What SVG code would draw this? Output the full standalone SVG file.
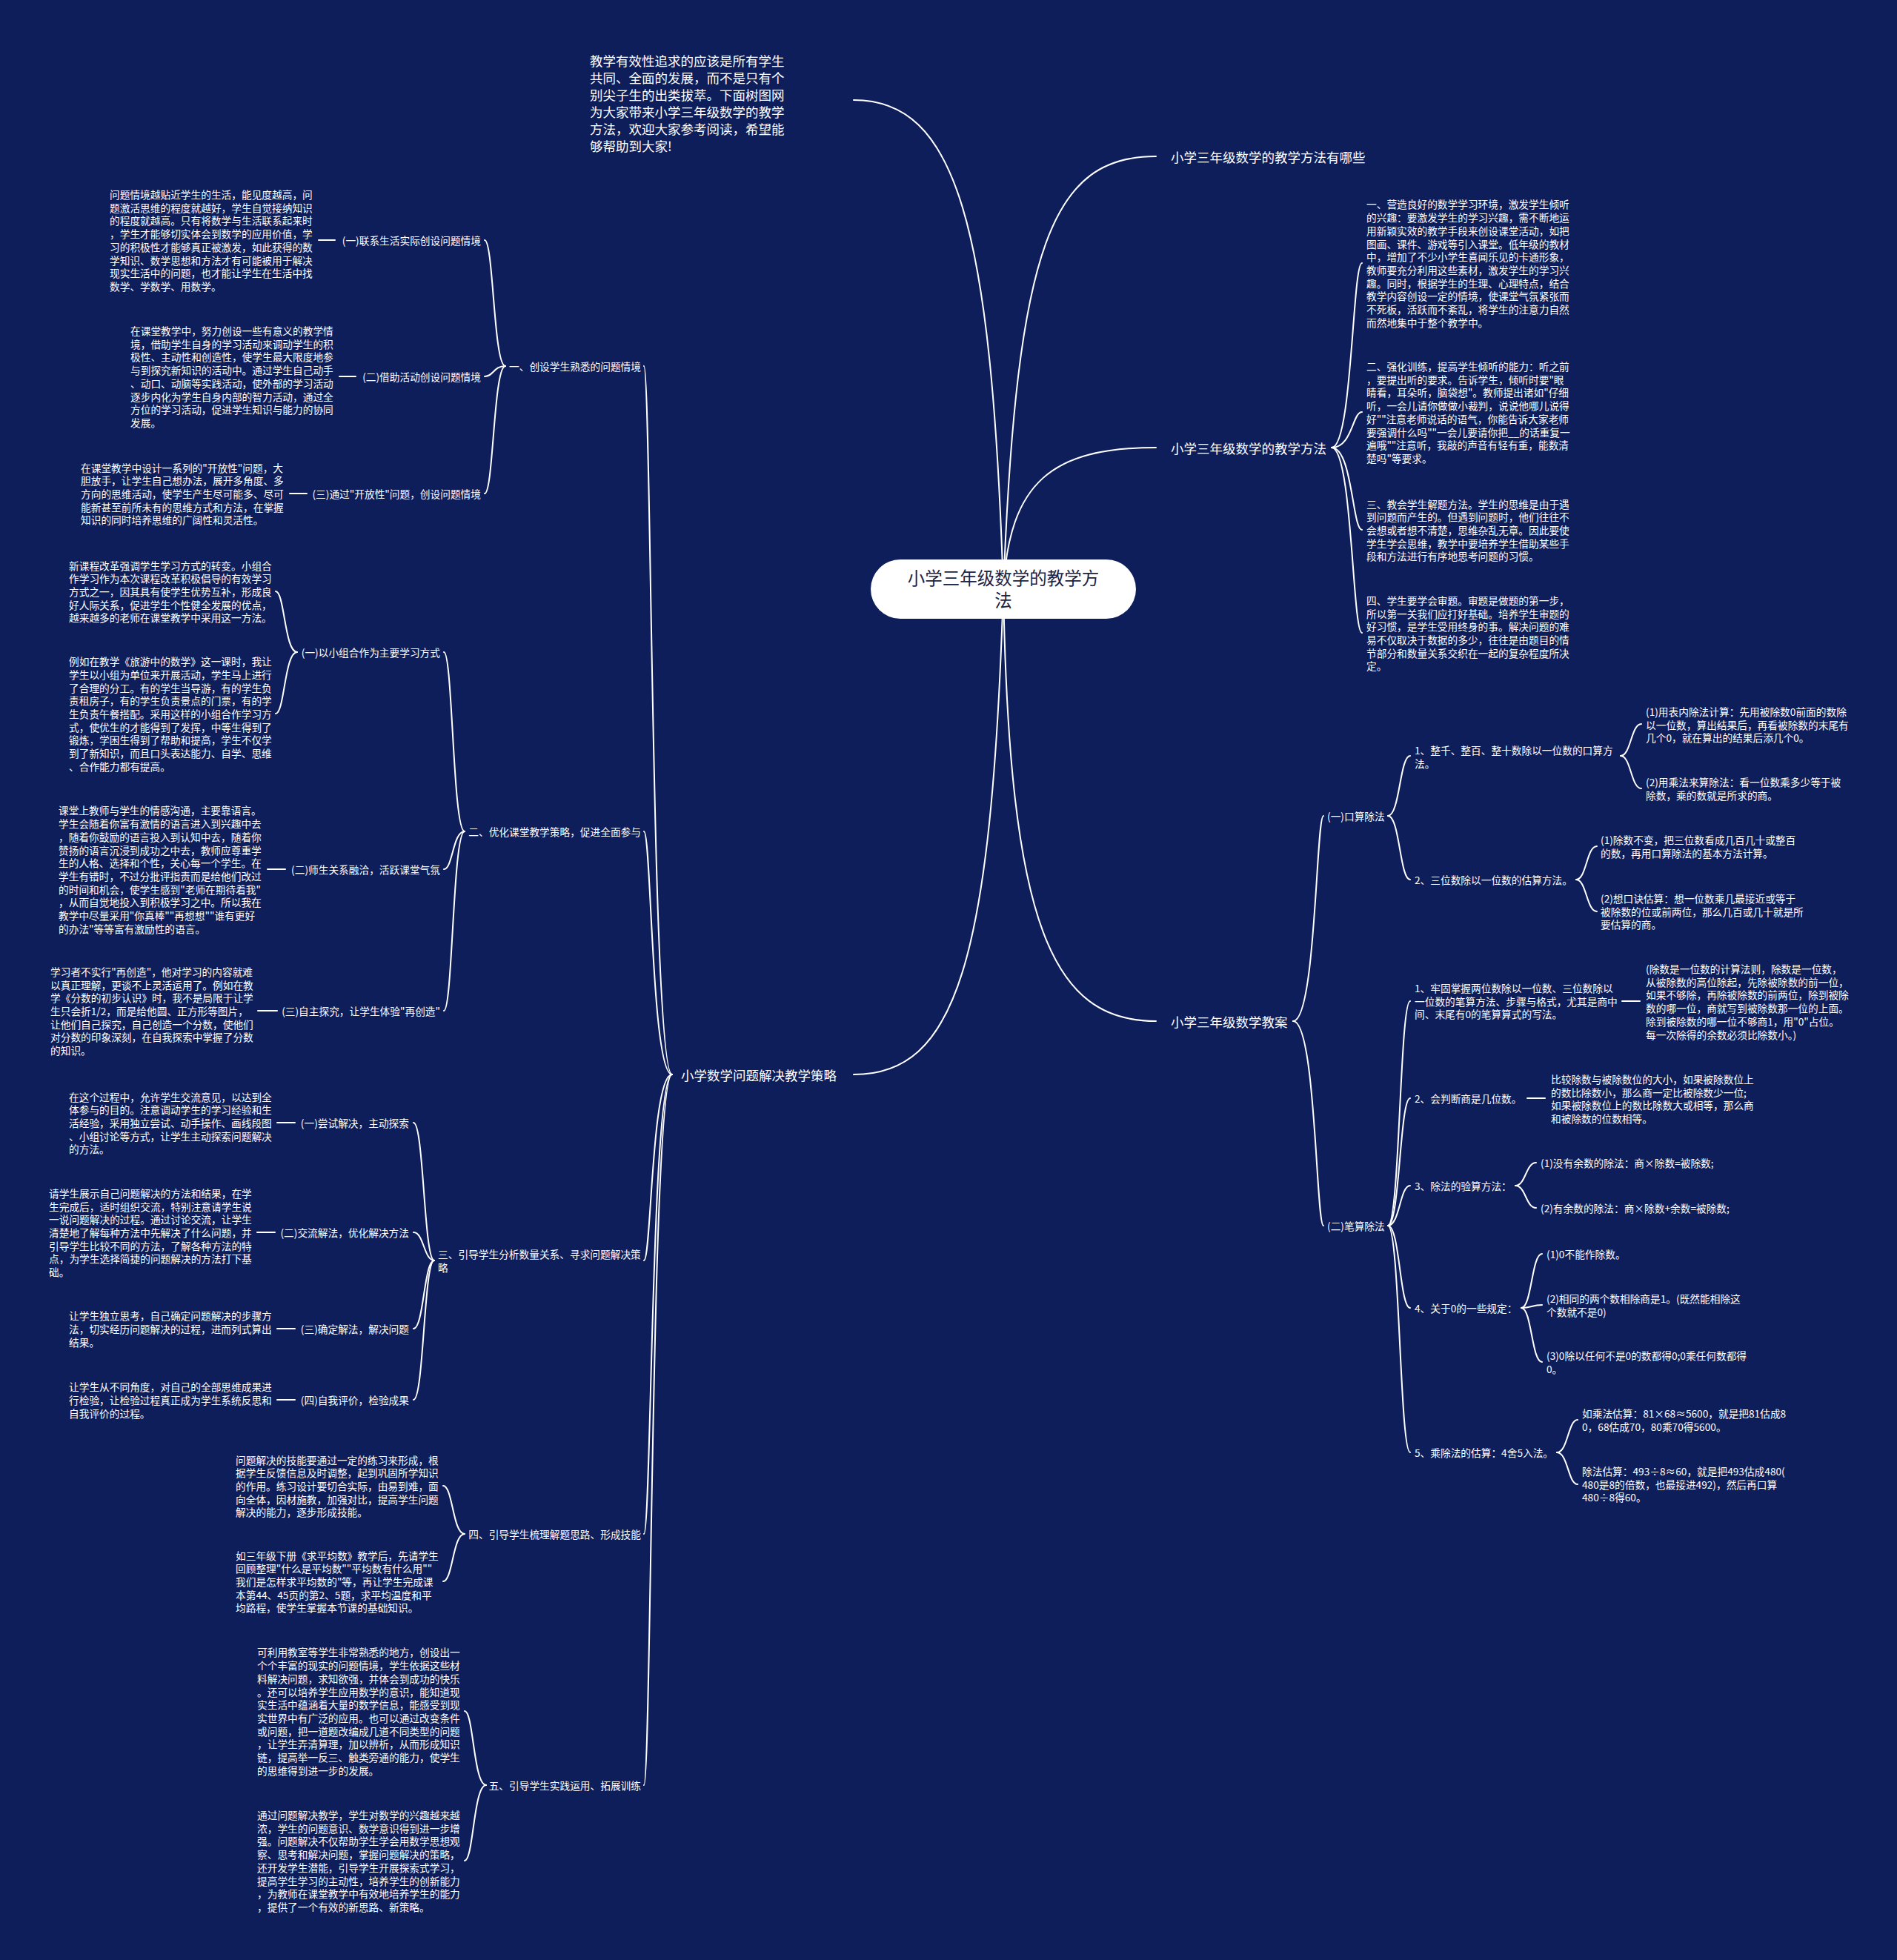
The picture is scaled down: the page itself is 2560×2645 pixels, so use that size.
<svg xmlns="http://www.w3.org/2000/svg" width="2560" height="2645" viewBox="0 0 2560 2645">
<style>
text{font-family:"Noto Sans CJK SC","Microsoft YaHei","Noto Sans",sans-serif;fill:#ffffff;dominant-baseline:central}
.t{font-size:13.7px}
.m{font-size:17.5px}
.c{fill:none;stroke:#ffffff;stroke-width:2;stroke-linecap:round}
.e{text-anchor:end}
</style>
<rect width="2560" height="2645" fill="#0e1e5b"/>
<g id="connectors">
<path class="c" d="M1354 795 C1372 330,1420 211,1560 211"/>
<path class="c" d="M1354 795 C1362 650,1420 604,1560 604"/>
<path class="c" d="M1354 795 C1362 1250,1420 1378,1560 1378"/>
<path class="c" d="M1354 795 C1338 300,1290 135,1152 135"/>
<path class="c" d="M1354 795 C1338 1300,1290 1450,1152 1450"/>
<path class="c" d="M907 1450 C879 1450,879 494,869 494"/>
<path class="c" d="M907 1450 C879 1450,879 1122,869 1122"/>
<path class="c" d="M907 1450 C879 1450,879 1701,869 1701"/>
<path class="c" d="M907 1450 C879 1450,879 2070,869 2070"/>
<path class="c" d="M907 1450 C879 1450,879 2409,869 2409"/>
<path class="c" d="M682 494 C666 494,666 324,654 324"/>
<path class="c" d="M682 494 C666 494,666 508,654 508"/>
<path class="c" d="M682 494 C666 494,666 666,654 666"/>
<path class="c" d="M430 324 L452 324"/>
<path class="c" d="M458 508 L480 508"/>
<path class="c" d="M391 666 L414 666"/>
<path class="c" d="M627 1122 C611 1122,611 880,599 880"/>
<path class="c" d="M627 1122 C611 1122,611 1173,599 1173"/>
<path class="c" d="M627 1122 C611 1122,611 1364,599 1364"/>
<path class="c" d="M401 880 C384 880,384 798,372 798"/>
<path class="c" d="M401 880 C384 880,384 963,372 963"/>
<path class="c" d="M361 1173 L385 1173"/>
<path class="c" d="M348 1364 L374 1364"/>
<path class="c" d="M586 1701 C572 1701,572 1515,558 1515"/>
<path class="c" d="M586 1701 C572 1701,572 1663,558 1663"/>
<path class="c" d="M586 1701 C572 1701,572 1793,558 1793"/>
<path class="c" d="M586 1701 C572 1701,572 1889,558 1889"/>
<path class="c" d="M374 1515 L398 1515"/>
<path class="c" d="M347 1663 L371 1663"/>
<path class="c" d="M374 1793 L398 1793"/>
<path class="c" d="M374 1889 L398 1889"/>
<path class="c" d="M627 2070 C611 2070,611 2005,598 2005"/>
<path class="c" d="M627 2070 C611 2070,611 2134,598 2134"/>
<path class="c" d="M656 2409 C639 2409,639 2309,627 2309"/>
<path class="c" d="M656 2409 C639 2409,639 2511,627 2511"/>
<path class="c" d="M1797 604 C1825 604,1825 355,1838 355"/>
<path class="c" d="M1797 604 C1825 604,1825 556,1838 556"/>
<path class="c" d="M1797 604 C1825 604,1825 715,1838 715"/>
<path class="c" d="M1797 604 C1825 604,1825 854,1838 854"/>
<path class="c" d="M1745 1378 C1776 1378,1776 1101,1786 1101"/>
<path class="c" d="M1745 1378 C1776 1378,1776 1654,1786 1654"/>
<path class="c" d="M1873 1101 C1889 1101,1889 1020,1903 1020"/>
<path class="c" d="M1873 1101 C1889 1101,1889 1187,1903 1187"/>
<path class="c" d="M2187 1020 C2201 1020,2201 977,2215 977"/>
<path class="c" d="M2187 1020 C2201 1020,2201 1064,2215 1064"/>
<path class="c" d="M2127 1187 C2141 1187,2141 1142,2155 1142"/>
<path class="c" d="M2127 1187 C2141 1187,2141 1230,2155 1230"/>
<path class="c" d="M1873 1654 C1889 1654,1889 1351,1903 1351"/>
<path class="c" d="M1873 1654 C1889 1654,1889 1482,1903 1482"/>
<path class="c" d="M1873 1654 C1889 1654,1889 1600,1903 1600"/>
<path class="c" d="M1873 1654 C1889 1654,1889 1765,1903 1765"/>
<path class="c" d="M1873 1654 C1889 1654,1889 1960,1903 1960"/>
<path class="c" d="M2189 1351 L2213 1351"/>
<path class="c" d="M2061 1482 L2085 1482"/>
<path class="c" d="M2045 1600 C2059 1600,2059 1569,2073 1569"/>
<path class="c" d="M2045 1600 C2059 1600,2059 1630,2073 1630"/>
<path class="c" d="M2053 1765 C2067 1765,2067 1692,2081 1692"/>
<path class="c" d="M2053 1765 C2067 1765,2067 1761,2081 1761"/>
<path class="c" d="M2053 1765 C2067 1765,2067 1838,2081 1838"/>
<path class="c" d="M2101 1960 C2116 1960,2116 1916,2129 1916"/>
<path class="c" d="M2101 1960 C2116 1960,2116 2003,2129 2003"/>
</g>
<g id="center">
<rect x="1175" y="755" width="358" height="80" rx="40" fill="#ffffff"/>
<text x="1354" y="779" style="font-size:23.5px;fill:#1b2444;text-anchor:middle">小学三年级数学的教学方</text>
<text x="1354" y="809" style="font-size:23.5px;fill:#1b2444;text-anchor:middle">法</text>
</g>
<g id="intro">
<text class="m" x="796" y="80.7"><tspan x="796">教学有效性追求的应该是所有学生</tspan><tspan x="796" dy="23">共同、全面的发展，而不是只有个</tspan><tspan x="796" dy="23">别尖子生的出类拔萃。下面树图网</tspan><tspan x="796" dy="23">为大家带来小学三年级数学的教学</tspan><tspan x="796" dy="23">方法，欢迎大家参考阅读，希望能</tspan><tspan x="796" dy="23">够帮助到大家!</tspan></text>
</g>
<g id="main-r1"><text class="m" x="1580" y="211">小学三年级数学的教学方法有哪些</text></g>
<g id="main-r2"><text class="m" x="1580" y="604">小学三年级数学的教学方法</text></g>
<g id="main-r3"><text class="m" x="1580" y="1378">小学三年级数学教案</text></g>
<g id="main-l"><text class="m" x="919" y="1450">小学数学问题解决教学策略</text></g>

<g id="sec1"><text class="t e" x="865" y="494">一、创设学生熟悉的问题情境</text></g>
<g id="sec1-1"><text class="t e" x="649" y="324">(一)联系生活实际创设问题情境</text></g>
<g id="sec1-1-t"><text class="t" x="148" y="262"><tspan x="148">问题情境越贴近学生的生活，能见度越高，问</tspan><tspan x="148" dy="17.7">题激活思维的程度就越好，学生自觉接纳知识</tspan><tspan x="148" dy="17.7">的程度就越高。只有将数学与生活联系起来时</tspan><tspan x="148" dy="17.7">，学生才能够切实体会到数学的应用价值，学</tspan><tspan x="148" dy="17.7">习的积极性才能够真正被激发，如此获得的数</tspan><tspan x="148" dy="17.7">学知识、数学思想和方法才有可能被用于解决</tspan><tspan x="148" dy="17.7">现实生活中的问题，也才能让学生在生活中找</tspan><tspan x="148" dy="17.7">数学、学数学、用数学。</tspan></text></g>
<g id="sec1-2"><text class="t e" x="649" y="508">(二)借助活动创设问题情境</text></g>
<g id="sec1-2-t"><text class="t" x="176" y="446"><tspan x="176">在课堂教学中，努力创设一些有意义的教学情</tspan><tspan x="176" dy="17.7">境，借助学生自身的学习活动来调动学生的积</tspan><tspan x="176" dy="17.7">极性、主动性和创造性，使学生最大限度地参</tspan><tspan x="176" dy="17.7">与到探究新知识的活动中。通过学生自己动手</tspan><tspan x="176" dy="17.7">、动口、动脑等实践活动，使外部的学习活动</tspan><tspan x="176" dy="17.7">逐步内化为学生自身内部的智力活动，通过全</tspan><tspan x="176" dy="17.7">方位的学习活动，促进学生知识与能力的协同</tspan><tspan x="176" dy="17.7">发展。</tspan></text></g>
<g id="sec1-3"><text class="t e" x="649" y="666">(三)通过"开放性"问题，创设问题情境</text></g>
<g id="sec1-3-t"><text class="t" x="109" y="630.6"><tspan x="109">在课堂教学中设计一系列的"开放性"问题，大</tspan><tspan x="109" dy="17.7">胆放手，让学生自己想办法，展开多角度、多</tspan><tspan x="109" dy="17.7">方向的思维活动，使学生产生尽可能多、尽可</tspan><tspan x="109" dy="17.7">能新甚至前所未有的思维方式和方法，在掌握</tspan><tspan x="109" dy="17.7">知识的同时培养思维的广阔性和灵活性。</tspan></text></g>

<g id="sec2"><text class="t e" x="865" y="1122">二、优化课堂教学策略，促进全面参与</text></g>
<g id="sec2-1"><text class="t e" x="594" y="880">(一)以小组合作为主要学习方式</text></g>
<g id="sec2-1-t1"><text class="t" x="93" y="762.6"><tspan x="93">新课程改革强调学生学习方式的转变。小组合</tspan><tspan x="93" dy="17.7">作学习作为本次课程改革积极倡导的有效学习</tspan><tspan x="93" dy="17.7">方式之一，因其具有使学生优势互补，形成良</tspan><tspan x="93" dy="17.7">好人际关系，促进学生个性健全发展的优点，</tspan><tspan x="93" dy="17.7">越来越多的老师在课堂教学中采用这一方法。</tspan></text></g>
<g id="sec2-1-t2"><text class="t" x="93" y="892.2"><tspan x="93">例如在教学《旅游中的数学》这一课时，我让</tspan><tspan x="93" dy="17.7">学生以小组为单位来开展活动，学生马上进行</tspan><tspan x="93" dy="17.7">了合理的分工。有的学生当导游，有的学生负</tspan><tspan x="93" dy="17.7">责租房子，有的学生负责景点的门票，有的学</tspan><tspan x="93" dy="17.7">生负责午餐搭配。采用这样的小组合作学习方</tspan><tspan x="93" dy="17.7">式，使优生的才能得到了发挥，中等生得到了</tspan><tspan x="93" dy="17.7">锻炼，学困生得到了帮助和提高，学生不仅学</tspan><tspan x="93" dy="17.7">到了新知识，而且口头表达能力、自学、思维</tspan><tspan x="93" dy="17.7">、合作能力都有提高。</tspan></text></g>
<g id="sec2-2"><text class="t e" x="594" y="1173">(二)师生关系融洽，活跃课堂气氛</text></g>
<g id="sec2-2-t"><text class="t" x="79" y="1093.4"><tspan x="79">课堂上教师与学生的情感沟通，主要靠语言。</tspan><tspan x="79" dy="17.7">学生会随着你富有激情的语言进入到兴趣中去</tspan><tspan x="79" dy="17.7">，随着你鼓励的语言投入到认知中去，随着你</tspan><tspan x="79" dy="17.7">赞扬的语言沉浸到成功之中去，教师应尊重学</tspan><tspan x="79" dy="17.7">生的人格、选择和个性，关心每一个学生。在</tspan><tspan x="79" dy="17.7">学生有错时，不过分批评指责而是给他们改过</tspan><tspan x="79" dy="17.7">的时间和机会，使学生感到"老师在期待着我"</tspan><tspan x="79" dy="17.7">，从而自觉地投入到积极学习之中。所以我在</tspan><tspan x="79" dy="17.7">教学中尽量采用"你真棒""再想想""谁有更好</tspan><tspan x="79" dy="17.7">的办法"等等富有激励性的语言。</tspan></text></g>
<g id="sec2-3"><text class="t e" x="594" y="1364">(三)自主探究，让学生体验"再创造"</text></g>
<g id="sec2-3-t"><text class="t" x="68" y="1310.9"><tspan x="68">学习者不实行"再创造"，他对学习的内容就难</tspan><tspan x="68" dy="17.7">以真正理解，更谈不上灵活运用了。例如在教</tspan><tspan x="68" dy="17.7">学《分数的初步认识》时，我不是局限于让学</tspan><tspan x="68" dy="17.7">生只会折1/2，而是给他圆、正方形等图片，</tspan><tspan x="68" dy="17.7">让他们自己探究，自己创造一个分数，使他们</tspan><tspan x="68" dy="17.7">对分数的印象深刻，在自我探索中掌握了分数</tspan><tspan x="68" dy="17.7">的知识。</tspan></text></g>

<g id="sec3"><text class="t" x="591" y="1692"><tspan x="591">三、引导学生分析数量关系、寻求问题解决策</tspan><tspan x="591" dy="17.7">略</tspan></text></g>
<g id="sec3-1"><text class="t e" x="552" y="1515">(一)尝试解决，主动探索</text></g>
<g id="sec3-1-t"><text class="t" x="93" y="1479.6"><tspan x="93">在这个过程中，允许学生交流意见，以达到全</tspan><tspan x="93" dy="17.7">体参与的目的。注意调动学生的学习经验和生</tspan><tspan x="93" dy="17.7">活经验，采用独立尝试、动手操作、画线段图</tspan><tspan x="93" dy="17.7">、小组讨论等方式，让学生主动探索问题解决</tspan><tspan x="93" dy="17.7">的方法。</tspan></text></g>
<g id="sec3-2"><text class="t e" x="552" y="1663">(二)交流解法，优化解决方法</text></g>
<g id="sec3-2-t"><text class="t" x="66" y="1609.9"><tspan x="66">请学生展示自己问题解决的方法和结果，在学</tspan><tspan x="66" dy="17.7">生完成后，适时组织交流，特别注意请学生说</tspan><tspan x="66" dy="17.7">一说问题解决的过程。通过讨论交流，让学生</tspan><tspan x="66" dy="17.7">清楚地了解每种方法中先解决了什么问题，并</tspan><tspan x="66" dy="17.7">引导学生比较不同的方法，了解各种方法的特</tspan><tspan x="66" dy="17.7">点，为学生选择简捷的问题解决的方法打下基</tspan><tspan x="66" dy="17.7">础。</tspan></text></g>
<g id="sec3-3"><text class="t e" x="552" y="1793">(三)确定解法，解决问题</text></g>
<g id="sec3-3-t"><text class="t" x="93" y="1775.3"><tspan x="93">让学生独立思考，自己确定问题解决的步骤方</tspan><tspan x="93" dy="17.7">法，切实经历问题解决的过程，进而列式算出</tspan><tspan x="93" dy="17.7">结果。</tspan></text></g>
<g id="sec3-4"><text class="t e" x="552" y="1889">(四)自我评价，检验成果</text></g>
<g id="sec3-4-t"><text class="t" x="93" y="1871.3"><tspan x="93">让学生从不同角度，对自己的全部思维成果进</tspan><tspan x="93" dy="17.7">行检验，让检验过程真正成为学生系统反思和</tspan><tspan x="93" dy="17.7">自我评价的过程。</tspan></text></g>

<g id="sec4"><text class="t e" x="865" y="2070">四、引导学生梳理解题思路、形成技能</text></g>
<g id="sec4-t1"><text class="t" x="318" y="1969.6"><tspan x="318">问题解决的技能要通过一定的练习来形成，根</tspan><tspan x="318" dy="17.7">据学生反馈信息及时调整，起到巩固所学知识</tspan><tspan x="318" dy="17.7">的作用。练习设计要切合实际，由易到难，面</tspan><tspan x="318" dy="17.7">向全体，因材施教，加强对比，提高学生问题</tspan><tspan x="318" dy="17.7">解决的能力，逐步形成技能。</tspan></text></g>
<g id="sec4-t2"><text class="t" x="318" y="2098.6"><tspan x="318">如三年级下册《求平均数》教学后，先请学生</tspan><tspan x="318" dy="17.7">回顾整理"什么是平均数""平均数有什么用""</tspan><tspan x="318" dy="17.7">我们是怎样求平均数的"等，再让学生完成课</tspan><tspan x="318" dy="17.7">本第44、45页的第2、5题，求平均温度和平</tspan><tspan x="318" dy="17.7">均路程，使学生掌握本节课的基础知识。</tspan></text></g>

<g id="sec5"><text class="t e" x="865" y="2409">五、引导学生实践运用、拓展训练</text></g>
<g id="sec5-t1"><text class="t" x="347" y="2229.4"><tspan x="347">可利用教室等学生非常熟悉的地方，创设出一</tspan><tspan x="347" dy="17.7">个个丰富的现实的问题情境，学生依据这些材</tspan><tspan x="347" dy="17.7">料解决问题，求知欲强，并体会到成功的快乐</tspan><tspan x="347" dy="17.7">。还可以培养学生应用数学的意识，能知道现</tspan><tspan x="347" dy="17.7">实生活中蕴涵着大量的数学信息，能感受到现</tspan><tspan x="347" dy="17.7">实世界中有广泛的应用。也可以通过改变条件</tspan><tspan x="347" dy="17.7">或问题，把一道题改编成几道不同类型的问题</tspan><tspan x="347" dy="17.7">，让学生弄清算理，加以辨析，从而形成知识</tspan><tspan x="347" dy="17.7">链，提高举一反三、触类旁通的能力，使学生</tspan><tspan x="347" dy="17.7">的思维得到进一步的发展。</tspan></text></g>
<g id="sec5-t2"><text class="t" x="347" y="2449"><tspan x="347">通过问题解决教学，学生对数学的兴趣越来越</tspan><tspan x="347" dy="17.7">浓，学生的问题意识、数学意识得到进一步增</tspan><tspan x="347" dy="17.7">强。问题解决不仅帮助学生学会用数学思想观</tspan><tspan x="347" dy="17.7">察、思考和解决问题，掌握问题解决的策略，</tspan><tspan x="347" dy="17.7">还开发学生潜能，引导学生开展探索式学习，</tspan><tspan x="347" dy="17.7">提高学生学习的主动性，培养学生的创新能力</tspan><tspan x="347" dy="17.7">，为教师在课堂教学中有效地培养学生的能力</tspan><tspan x="347" dy="17.7">，提供了一个有效的新思路、新策略。</tspan></text></g>

<g id="r2-1"><text class="t" x="1844" y="275.4"><tspan x="1844">一、营造良好的数学学习环境，激发学生倾听</tspan><tspan x="1844" dy="17.7">的兴趣：要激发学生的学习兴趣，需不断地运</tspan><tspan x="1844" dy="17.7">用新颖实效的教学手段来创设课堂活动，如把</tspan><tspan x="1844" dy="17.7">图画、课件、游戏等引入课堂。低年级的教材</tspan><tspan x="1844" dy="17.7">中，增加了不少小学生喜闻乐见的卡通形象，</tspan><tspan x="1844" dy="17.7">教师要充分利用这些素材，激发学生的学习兴</tspan><tspan x="1844" dy="17.7">趣。同时，根据学生的生理、心理特点，结合</tspan><tspan x="1844" dy="17.7">教学内容创设一定的情境，使课堂气氛紧张而</tspan><tspan x="1844" dy="17.7">不死板，活跃而不紊乱，将学生的注意力自然</tspan><tspan x="1844" dy="17.7">而然地集中于整个教学中。</tspan></text></g>
<g id="r2-2"><text class="t" x="1844" y="494"><tspan x="1844">二、强化训练，提高学生倾听的能力：听之前</tspan><tspan x="1844" dy="17.7">，要提出听的要求。告诉学生，倾听时要"眼</tspan><tspan x="1844" dy="17.7">睛看，耳朵听，脑袋想"。教师提出诸如"仔细</tspan><tspan x="1844" dy="17.7">听，一会儿请你做做小裁判，说说他哪儿说得</tspan><tspan x="1844" dy="17.7">好""注意老师说话的语气，你能告诉大家老师</tspan><tspan x="1844" dy="17.7">要强调什么吗""一会儿要请你把__的话重复一</tspan><tspan x="1844" dy="17.7">遍哦""注意听，我敲的声音有轻有重，能数清</tspan><tspan x="1844" dy="17.7">楚吗"等要求。</tspan></text></g>
<g id="r2-3"><text class="t" x="1844" y="679.6"><tspan x="1844">三、教会学生解题方法。学生的思维是由于遇</tspan><tspan x="1844" dy="17.7">到问题而产生的。但遇到问题时，他们往往不</tspan><tspan x="1844" dy="17.7">会想或者想不清楚，思维杂乱无章。因此要使</tspan><tspan x="1844" dy="17.7">学生学会思维，教学中要培养学生借助某些手</tspan><tspan x="1844" dy="17.7">段和方法进行有序地思考问题的习惯。</tspan></text></g>
<g id="r2-4"><text class="t" x="1844" y="809.8"><tspan x="1844">四、学生要学会审题。审题是做题的第一步，</tspan><tspan x="1844" dy="17.7">所以第一关我们应打好基础。培养学生审题的</tspan><tspan x="1844" dy="17.7">好习惯，是学生受用终身的事。解决问题的难</tspan><tspan x="1844" dy="17.7">易不仅取决于数据的多少，往往是由题目的情</tspan><tspan x="1844" dy="17.7">节部分和数量关系交织在一起的复杂程度所决</tspan><tspan x="1844" dy="17.7">定。</tspan></text></g>

<g id="r3-1"><text class="t" x="1791" y="1101">(一)口算除法</text></g>
<g id="r3-1-1"><text class="t" x="1909" y="1012"><tspan x="1909">1、整千、整百、整十数除以一位数的口算方</tspan><tspan x="1909" dy="17.7">法。</tspan></text></g>
<g id="r3-1-1a"><text class="t" x="2221" y="960"><tspan x="2221">(1)用表内除法计算：先用被除数0前面的数除</tspan><tspan x="2221" dy="17.7">以一位数，算出结果后，再看被除数的末尾有</tspan><tspan x="2221" dy="17.7">几个0，就在算出的结果后添几个0。</tspan></text></g>
<g id="r3-1-1b"><text class="t" x="2221" y="1055"><tspan x="2221">(2)用乘法来算除法：看一位数乘多少等于被</tspan><tspan x="2221" dy="17.7">除数，乘的数就是所求的商。</tspan></text></g>
<g id="r3-1-2"><text class="t" x="1909" y="1187">2、三位数除以一位数的估算方法。</text></g>
<g id="r3-1-2a"><text class="t" x="2160" y="1133"><tspan x="2160">(1)除数不变，把三位数看成几百几十或整百</tspan><tspan x="2160" dy="17.7">的数，再用口算除法的基本方法计算。</tspan></text></g>
<g id="r3-1-2b"><text class="t" x="2160" y="1212"><tspan x="2160">(2)想口诀估算：想一位数乘几最接近或等于</tspan><tspan x="2160" dy="17.7">被除数的位或前两位，那么几百或几十就是所</tspan><tspan x="2160" dy="17.7">要估算的商。</tspan></text></g>

<g id="r3-2"><text class="t" x="1791" y="1654">(二)笔算除法</text></g>
<g id="r3-2-1"><text class="t" x="1909" y="1333"><tspan x="1909">1、牢固掌握两位数除以一位数、三位数除以</tspan><tspan x="1909" dy="17.7">一位数的笔算方法、步骤与格式，尤其是商中</tspan><tspan x="1909" dy="17.7">间、末尾有0的笔算算式的写法。</tspan></text></g>
<g id="r3-2-1a"><text class="t" x="2221" y="1307"><tspan x="2221">(除数是一位数的计算法则，除数是一位数，</tspan><tspan x="2221" dy="17.7">从被除数的高位除起，先除被除数的前一位，</tspan><tspan x="2221" dy="17.7">如果不够除，再除被除数的前两位，除到被除</tspan><tspan x="2221" dy="17.7">数的哪一位，商就写到被除数那一位的上面。</tspan><tspan x="2221" dy="17.7">除到被除数的哪一位不够商1，用"0"占位。</tspan><tspan x="2221" dy="17.7">每一次除得的余数必须比除数小。)</tspan></text></g>
<g id="r3-2-2"><text class="t" x="1909" y="1482">2、会判断商是几位数。</text></g>
<g id="r3-2-2a"><text class="t" x="2093" y="1456"><tspan x="2093">比较除数与被除数位的大小，如果被除数位上</tspan><tspan x="2093" dy="17.7">的数比除数小，那么商一定比被除数少一位;</tspan><tspan x="2093" dy="17.7">如果被除数位上的数比除数大或相等，那么商</tspan><tspan x="2093" dy="17.7">和被除数的位数相等。</tspan></text></g>
<g id="r3-2-3"><text class="t" x="1909" y="1600">3、除法的验算方法：</text></g>
<g id="r3-2-3a"><text class="t" x="2079" y="1569">(1)没有余数的除法：商×除数=被除数;</text></g>
<g id="r3-2-3b"><text class="t" x="2079" y="1630">(2)有余数的除法：商×除数+余数=被除数;</text></g>
<g id="r3-2-4"><text class="t" x="1909" y="1765">4、关于0的一些规定：</text></g>
<g id="r3-2-4a"><text class="t" x="2087" y="1692">(1)0不能作除数。</text></g>
<g id="r3-2-4b"><text class="t" x="2087" y="1752"><tspan x="2087">(2)相同的两个数相除商是1。(既然能相除这</tspan><tspan x="2087" dy="17.7">个数就不是0)</tspan></text></g>
<g id="r3-2-4c"><text class="t" x="2087" y="1829"><tspan x="2087">(3)0除以任何不是0的数都得0;0乘任何数都得</tspan><tspan x="2087" dy="17.7">0。</tspan></text></g>
<g id="r3-2-5"><text class="t" x="1909" y="1960">5、乘除法的估算：4舍5入法。</text></g>
<g id="r3-2-5a"><text class="t" x="2135" y="1907"><tspan x="2135">如乘法估算：81×68≈5600，就是把81估成8</tspan><tspan x="2135" dy="17.7">0，68估成70，80乘70得5600。</tspan></text></g>
<g id="r3-2-5b"><text class="t" x="2135" y="1985"><tspan x="2135">除法估算：493÷8≈60，就是把493估成480(</tspan><tspan x="2135" dy="17.7">480是8的倍数，也最接进492)，然后再口算</tspan><tspan x="2135" dy="17.7">480÷8得60。</tspan></text></g>
</svg>
